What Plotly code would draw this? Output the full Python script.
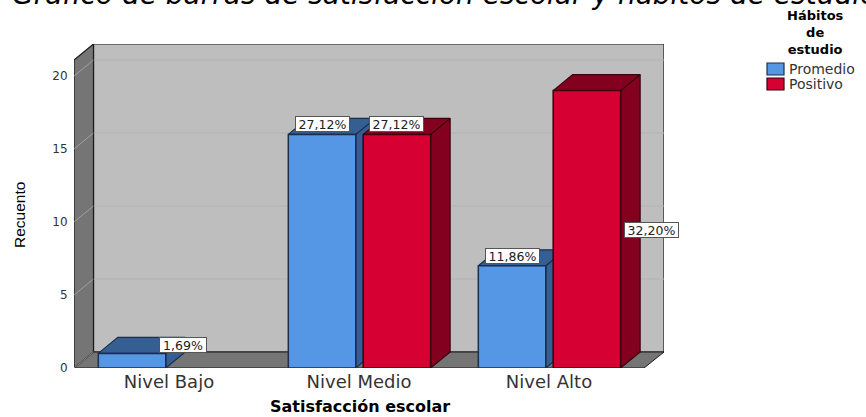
import plotly.graph_objects as go

categories = ["Nivel Bajo", "Nivel Medio", "Nivel Alto"]
series_names = ["Promedio", "Positivo"]
promedio = [1, 16, 7]
positivo = [None, 16, 19]
promedio_pct = [1.69, 27.12, 11.86]
positivo_pct = [None, 27.12, 32.20]
y_ticks = [0, 5, 10, 15, 20]

W, H = 866, 417
L, R, T, B = 74, 664, 44, 368
PX_X, PX_Y = 190.0, 14.6
x_range = [-0.5, -0.5 + (R - L) / PX_X]
y_range = [0, (B - T) / PX_Y]
DX, DY = 19.5 / PX_X, 16 / PX_Y
x_front_max = -0.5 + 3
y_front_max = (B - T) / PX_Y - DY
BAR_W = 0.355
OFFS = [-0.372, 0.022]
FRONT = ["#5596E5", "#D60032"]
DARK = ["#355F93", "#84001F"]
EDGE = ["#1B2F4A", "#3A0010"]
WALL_BACK, WALL_SIDE = "#BEBEBE", "#757575"
TXT = "#333333"


def px(x):
    return (x - L) / (R - L)


def py(y):
    return (B - y) / (B - T)


fig = go.Figure()
shapes = []


def poly(pts, fill, line="#1a1a1a", width=1.2):
    path = "M" + "L".join(f"{x},{y}" for x, y in pts) + "Z"
    return dict(type="path", path=path, xref="x", yref="y", fillcolor=fill,
                line=dict(color=line, width=width), layer="below")


x0 = -0.5
shapes.append(poly([(x0 + DX, DY), (x_range[1], DY), (x_range[1], y_range[1]), (x0 + DX, y_range[1])], WALL_BACK))
shapes.append(poly([(x0, 0), (x0 + DX, DY), (x_range[1], DY), (x_front_max, 0)], WALL_SIDE, width=1))
for v in y_ticks[1:]:
    shapes.append(dict(type="line", xref="x", yref="y", x0=x0 + DX, x1=x_range[1], y0=v + DY, y1=v + DY,
                       line=dict(color="#B3B3B3", width=1), layer="below"))
shapes.append(poly([(x0, 0), (x0, y_front_max), (x0 + DX, y_range[1]), (x0 + DX, DY)], WALL_SIDE))
for v in y_ticks:
    shapes.append(dict(type="line", xref="x", yref="y", x0=x0, x1=x0 + DX, y0=v, y1=v + DY,
                       line=dict(color="#ABABAB", width=0.8), layer="below"))

z = 1
for s, vals in enumerate([promedio, positivo]):
    xs_side, ys_side, xs_top, ys_top = [], [], [], []
    for i, v in enumerate(vals):
        if v is None:
            continue
        a = i + OFFS[s]
        b = a + BAR_W
        xs_side += [b, b, b + DX, b + DX, b, None]
        ys_side += [0, v, v + DY, DY, 0, None]
        xs_top += [a, b, b + DX, a + DX, a, None]
        ys_top += [v, v, v + DY, v + DY, v, None]
    for xs, ys in ((xs_side, ys_side), (xs_top, ys_top)):
        fig.add_trace(go.Scatter(x=xs, y=ys, mode="lines", fill="toself", fillcolor=DARK[s],
                                 line=dict(color=EDGE[s], width=1.2), showlegend=False,
                                 hoverinfo="skip", zorder=z))
    fig.add_trace(go.Bar(x=list(range(3)), y=vals, width=BAR_W, offset=OFFS[s], name=series_names[s],
                         marker=dict(color=FRONT[s], line=dict(color=EDGE[s], width=1.5)),
                         showlegend=False, zorder=z + 1))
    z += 2

LABEL_FONT = dict(family="DejaVu Sans", size=12.5, color="#222222")
anns = []


def lab(i, s, val, pct, xshift=0, yshift=10, w=51):
    cx = i + OFFS[s] + BAR_W / 2
    anns.append(dict(x=cx, y=val, xref="x", yref="y", text=f"{pct:.2f}%".replace(".", ","), showarrow=False,
                     xshift=xshift, yshift=yshift, font=LABEL_FONT, bgcolor="white", bordercolor="#555555",
                     borderwidth=1, borderpad=1, width=w, height=12, xanchor="center", yanchor="middle"))


lab(0, 0, promedio[0], promedio_pct[0], xshift=51, yshift=8, w=44)
lab(1, 0, promedio[1], promedio_pct[1])
lab(1, 1, positivo[1], positivo_pct[1])
lab(2, 0, promedio[2], promedio_pct[2])
lab(2, 1, positivo[2], positivo_pct[2], xshift=65, yshift=-139)

anns.append(dict(x=px(815), y=py(32), xref="paper", yref="paper", text="Hábitos<br>de<br>estudio", showarrow=False,
                 align="center", font=dict(family="DejaVu Sans", size=13, color="black", weight="bold"),
                 xanchor="center", yanchor="middle"))

for s, yy in enumerate([69, 84]):
    shapes.append(dict(type="rect", xref="paper", yref="paper", x0=px(767), x1=px(784),
                       y0=py(yy + 6), y1=py(yy - 6), fillcolor=FRONT[s],
                       line=dict(color=EDGE[s], width=1.2), layer="above"))
    anns.append(dict(x=px(787), y=py(yy), xref="paper", yref="paper", text=series_names[s], showarrow=False,
                     font=dict(family="DejaVu Sans", size=14, color=TXT), xanchor="left", yanchor="middle"))

anns.append(dict(x=px(360), y=py(406.5), xref="paper", yref="paper", text="Satisfacción escolar", showarrow=False,
                 font=dict(family="DejaVu Sans", size=16, color="black", weight="bold"),
                 xanchor="center", yanchor="middle"))
anns.append(dict(x=px(19), y=py(215), xref="paper", yref="paper", text="Recuento", showarrow=False, textangle=-90,
                 font=dict(family="Liberation Sans", size=15.5, color="black"),
                 xanchor="center", yanchor="middle"))

fig.update_layout(
    width=W, height=H, autosize=False,
    margin=dict(l=L, r=W - R, t=T, b=H - B, pad=0),
    paper_bgcolor="white", plot_bgcolor="white",
    barmode="overlay", showlegend=False,
    shapes=shapes, annotations=anns,
    title=dict(text="Gráfico de barras de satisfacción escolar y hábitos de estudio",
               x=12 / W, xanchor="left", xref="container", y=1 - 4 / H, yanchor="bottom", yref="container",
               font=dict(family="DejaVu Sans", size=28, style="italic", color="black")),
    xaxis=dict(range=x_range, tickmode="array", tickvals=[0, 1, 2], ticktext=categories, showgrid=False,
               zeroline=False, showline=False, ticks="outside", ticklen=1, tickcolor="rgba(0,0,0,0)",
               ticklabelstandoff=-4,
               tickfont=dict(family="DejaVu Sans", size=18, color=TXT), fixedrange=True),
    yaxis=dict(range=y_range, tickmode="array", tickvals=y_ticks, showgrid=False, zeroline=False, showline=False,
               ticks="outside", ticklen=3, tickcolor="rgba(0,0,0,0)",
               tickfont=dict(family="DejaVu Sans", size=12, color=TXT), fixedrange=True),
)

fig.write_html("out.html", config={"displayModeBar": False},
               post_script="document.body.style.margin='0';document.documentElement.style.overflow='hidden';")
